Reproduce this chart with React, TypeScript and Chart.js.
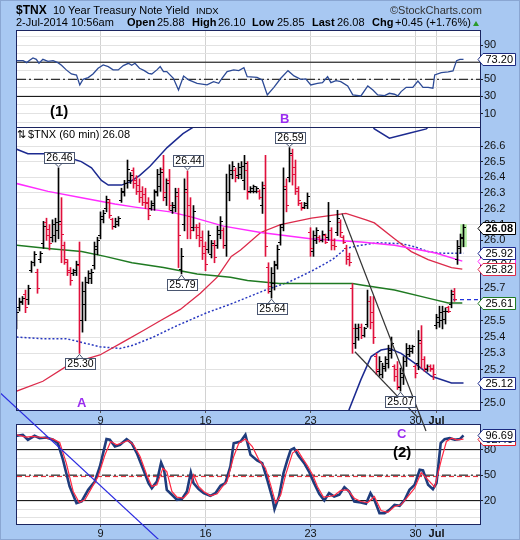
import React, { useEffect, useRef } from 'react';
import { Chart, registerables } from 'chart.js';

Chart.register(...registerables);

const FONT = '"Liberation Sans", Arial, Helvetica, sans-serif';
const X_MIN = 1 / 6;
const X_MAX = 154.5;
const DASH_DOT = [9, 3, 2, 3];

// ---- x axis: hourly bars, one index per bar (3-Jun-2014 .. 2-Jul-2014 10:00)
const dayTickIndex = [28, 63, 98, 133, 140];
const dayTickLabels = ['9', '16', '23', '30', 'Jul'];

// ---- OHLC (60 min)
const opens = [
  25.48, 25.58, 25.61, 25.66, 25.63, 25.81, 25.86, 25.80, 25.88, 25.98,
  26.11, 26.07, 26.02, 26.03, 26.06, 26.10, 25.97, 25.86, 25.81, 25.79,
  25.80, 25.84, 25.50, 25.60, 25.74, 25.76, 25.84, 25.94, 26.03, 26.13,
  26.20, 26.24, 26.13, 26.09, 26.10, 26.25, 26.30, 26.36, 26.38, 26.44,
  26.38, 26.35, 26.31, 26.29, 26.24, 26.20, 26.22, 26.31, 26.34, 26.45,
  26.27, 26.38, 26.19, 26.21, 26.28, 25.82, 26.10, 26.30, 26.22, 26.08,
  26.08, 26.08, 26.02, 25.96, 25.94, 25.91, 25.97, 25.97, 26.04, 26.06,
  25.97, 26.30, 26.42, 26.44, 26.41, 26.42, 26.38, 26.44, 26.31, 26.31,
  26.31, 26.31, 26.22, 26.35, 25.83, 25.68, 25.73, 25.85, 25.99, 26.10,
  26.34, 26.40, 26.54, 26.46, 26.31, 26.23, 26.21, 26.22, 26.05, 25.93,
  26.00, 26.02, 26.00, 26.03, 26.02, 26.06, 26.00, 26.05, 26.11, 26.02,
  25.95, 25.90, 25.70, 25.36, 25.40, 25.46, 25.41, 25.48, 25.62, 25.55,
  25.28, 25.19, 25.17, 25.21, 25.24, 25.30, 25.22, 25.20, 25.09, 25.15,
  25.25, 25.29, 25.31, 25.22, 25.24, 25.36, 25.26, 25.20, 25.22, 25.21,
  25.47, 25.49, 25.50, 25.51, 25.58, 25.60, 25.68, 25.88, 25.95, 26.01,
];
const highs = [
  25.57, 25.64, 25.65, 25.69, 25.72, 25.87, 25.93, 25.82, 25.93, 26.12,
  26.14, 26.10, 26.13, 26.14, 26.46, 26.27, 25.99, 25.88, 25.83, 25.82,
  25.87, 25.99, 25.74, 25.77, 25.81, 25.82, 25.99, 26.02, 26.18, 26.19,
  26.28, 26.26, 26.14, 26.14, 26.15, 26.33, 26.38, 26.51, 26.43, 26.46,
  26.41, 26.39, 26.34, 26.33, 26.27, 26.25, 26.32, 26.45, 26.46, 26.54,
  26.39, 26.45, 26.24, 26.33, 26.33, 25.95, 26.39, 26.44, 26.27, 26.22,
  26.10, 26.11, 26.06, 25.99, 26.06, 26.00, 26.00, 26.09, 26.15, 26.08,
  26.42, 26.48, 26.50, 26.46, 26.49, 26.50, 26.54, 26.50, 26.34, 26.35,
  26.34, 26.32, 26.37, 26.54, 25.86, 25.83, 25.87, 25.97, 26.10, 26.46,
  26.39, 26.59, 26.58, 26.51, 26.34, 26.24, 26.24, 26.30, 26.08, 26.06,
  26.08, 26.03, 26.06, 26.04, 26.24, 26.08, 26.01, 26.19, 26.13, 26.03,
  25.97, 25.92, 25.73, 25.48, 25.48, 25.48, 25.46, 25.69, 25.65, 25.65,
  25.30, 25.28, 25.24, 25.28, 25.35, 25.40, 25.23, 25.25, 25.21, 25.28,
  25.36, 25.35, 25.35, 25.23, 25.44, 25.47, 25.28, 25.23, 25.23, 25.23,
  25.54, 25.59, 25.59, 25.58, 25.59, 25.69, 25.70, 26.00, 26.04, 26.10,
];
const lows = [
  25.45, 25.56, 25.60, 25.55, 25.60, 25.80, 25.84, 25.67, 25.86, 25.95,
  26.00, 25.94, 25.99, 25.99, 26.01, 25.86, 25.85, 25.78, 25.72, 25.78,
  25.78, 25.30, 25.43, 25.50, 25.73, 25.73, 25.82, 25.91, 26.01, 26.11,
  26.18, 26.14, 26.07, 26.08, 26.09, 26.24, 26.28, 26.33, 26.36, 26.33,
  26.29, 26.24, 26.22, 26.20, 26.13, 26.19, 26.19, 26.28, 26.31, 26.25,
  26.22, 26.19, 26.17, 26.18, 25.83, 25.79, 26.06, 26.01, 26.01, 26.06,
  26.01, 25.96, 25.88, 25.81, 25.92, 25.89, 25.86, 25.95, 26.01, 25.95,
  25.90, 26.25, 26.39, 26.37, 26.39, 26.39, 26.32, 26.26, 26.30, 26.30,
  26.30, 26.26, 26.17, 25.90, 25.67, 25.64, 25.69, 25.82, 25.97, 26.06,
  26.18, 26.37, 26.35, 26.29, 26.22, 26.19, 26.20, 26.20, 25.90, 25.90,
  25.98, 25.99, 25.99, 25.98, 26.00, 25.94, 25.94, 26.03, 26.02, 25.98,
  25.85, 25.84, 25.30, 25.33, 25.38, 25.39, 25.40, 25.46, 25.45, 25.36,
  25.17, 25.16, 25.15, 25.19, 25.21, 25.27, 25.13, 25.08, 25.07, 25.11,
  25.22, 25.28, 25.30, 25.15, 25.20, 25.21, 25.19, 25.19, 25.19, 25.14,
  25.45, 25.46, 25.45, 25.48, 25.55, 25.58, 25.62, 25.85, 25.92, 25.96,
];
const closes = [
  25.55, 25.62, 25.64, 25.58, 25.70, 25.86, 25.91, 25.70, 25.92, 26.09,
  26.03, 25.98, 26.10, 26.11, 26.12, 26.04, 25.88, 25.80, 25.75, 25.81,
  25.85, 25.50, 25.68, 25.74, 25.79, 25.80, 25.96, 26.00, 26.15, 26.17,
  26.26, 26.16, 26.09, 26.12, 26.14, 26.31, 26.36, 26.45, 26.41, 26.36,
  26.31, 26.27, 26.24, 26.23, 26.16, 26.23, 26.30, 26.42, 26.43, 26.30,
  26.36, 26.22, 26.22, 26.30, 26.03, 25.90, 26.32, 26.15, 26.06, 26.18,
  26.03, 26.00, 25.92, 25.85, 26.03, 25.98, 25.89, 26.06, 26.12, 25.97,
  26.30, 26.44, 26.47, 26.40, 26.46, 26.47, 26.49, 26.30, 26.33, 26.34,
  26.33, 26.27, 26.33, 25.96, 25.71, 25.79, 25.84, 25.94, 26.08, 26.32,
  26.22, 26.55, 26.42, 26.33, 26.25, 26.20, 26.23, 26.28, 25.95, 26.03,
  26.06, 26.00, 26.04, 25.99, 26.12, 25.97, 25.96, 26.14, 26.05, 25.99,
  25.88, 25.86, 25.45, 25.45, 25.46, 25.41, 25.45, 25.62, 25.49, 25.40,
  25.20, 25.25, 25.22, 25.26, 25.32, 25.36, 25.16, 25.10, 25.18, 25.25,
  25.33, 25.33, 25.34, 25.18, 25.38, 25.26, 25.21, 25.22, 25.20, 25.17,
  25.52, 25.55, 25.56, 25.56, 25.56, 25.66, 25.63, 25.96, 26.02, 26.08,
];

// ---- axis ticks
const priceTicks = [25.0, 25.1, 25.2, 25.3, 25.4, 25.5, 25.6, 25.7, 25.8, 25.9, 26.0, 26.1, 26.2, 26.3, 26.4, 26.5, 26.6];
const oscTicks = [0, 10, 20, 30, 40, 50, 60, 70, 80, 90, 100];
const rsiTickLabels = [10, 30, 50, 70, 90];
const stochTickLabels = [20, 50, 80];
const rsiBands = [70, 30];
const rsiMid = 50;
const stochBands = [80, 20];
const stochMid = 50;
const stochSignalAvg = 48.3;

// ---- swing annotations (bar indices)
const swingHighIdx = [14, 57, 91];
const swingLowIdx = [21, 55, 85, 128];

// ---- overlays on price panel [barIndex, value]
const bbUpperEarly = [[0, 26.58], [3.8, 26.55], [9.4, 26.55], [18.3, 26.52], [21.6, 26.5], [25, 26.46], [28.3, 26.38], [30.6, 26.35], [35, 26.35], [37.8, 26.37], [41, 26.41], [44.5, 26.47], [50.2, 26.59], [55.5, 26.68], [58.8, 26.72], [62, 26.78]];
const bbUpperLate = [[116, 26.8], [119.3, 26.71], [124.3, 26.65], [130.5, 26.68], [136.6, 26.71], [140, 26.78]];
const bbMiddle = [[0, 25.4], [8.8, 25.39], [16.6, 25.39], [27.8, 25.34], [34.5, 25.33], [38.9, 25.35], [45.6, 25.4], [53.5, 25.47], [63.5, 25.55], [72.4, 25.61], [76.3, 25.64], [83, 25.69], [90.8, 25.74], [98.6, 25.81], [105.3, 25.88], [109.8, 25.95], [114.8, 25.97], [120.4, 25.985], [128.2, 25.98], [132.7, 25.96], [137.2, 25.93], [141.6, 25.92], [149, 25.92]];
const bbLower = [[107, 24.85], [110.9, 24.96], [114.8, 25.14], [118.2, 25.28], [121.5, 25.32], [124.3, 25.33], [128.2, 25.3], [132.7, 25.24], [138.3, 25.16], [145, 25.12], [149, 25.12]];
const maPink = [[0, 26.36], [10.5, 26.31], [21.7, 26.27], [32.8, 26.23], [39.5, 26.21], [51.2, 26.18], [57.9, 26.15], [69, 26.09], [81.4, 26.05], [98, 26.01], [114.8, 25.99], [126, 25.97], [137.2, 25.93], [140, 25.92], [148.6, 25.87]];
const maRed = [[0, 25.07], [8.8, 25.13], [16.6, 25.22], [22.2, 25.26], [27.8, 25.29], [35.6, 25.37], [42.3, 25.44], [47.9, 25.5], [54.6, 25.57], [61.3, 25.67], [66.9, 25.77], [71.6, 25.9], [74.7, 25.94], [81.4, 26.05], [88, 26.1], [98.3, 26.14], [109.8, 26.17], [116.5, 26.13], [119.3, 26.11], [126, 26.01], [131.6, 25.93], [137.2, 25.88], [145, 25.83], [148.6, 25.82]];
const maGreen = [[0, 25.97], [10.5, 25.95], [21.7, 25.93], [29.5, 25.9], [38.5, 25.86], [49, 25.83], [60.2, 25.79], [71.3, 25.77], [77, 25.75], [87.5, 25.73], [98.6, 25.73], [112, 25.73], [115.5, 25.72], [126, 25.69], [137.2, 25.64], [143.9, 25.61], [148.6, 25.61]];
const trendUpper = [[108.5, 26.17], [136.5, 24.83]];
const trendLower = [[112.8, 25.31], [133.8, 24.91]];
const cycleLine = [[-5.5, 25.06], [47.8, 24.18]];

// ---- RSI
const rsiSeries = [[0, 71.8], [2.2, 71.8], [3.4, 69.5], [4.5, 72.6], [5.5, 75], [6.6, 73.4], [7.5, 68.7], [8.8, 73.4], [10.5, 71], [12.2, 71.8], [13.8, 69.5], [15, 66.4], [16.6, 61], [18.3, 56.2], [20, 55], [21.1, 43.4], [22.2, 50], [23.9, 52], [25.5, 56.2], [27.2, 62.9], [28.9, 66.8], [30.6, 64.8], [32.2, 61], [33.9, 61], [35.6, 66], [37.3, 68.7], [38.4, 66.4], [39.5, 68.7], [41, 62.9], [42.6, 60.1], [44, 57], [45.1, 56.2], [46.8, 61], [47.9, 64.8], [49, 59], [50.1, 59], [52.3, 51.2], [54, 37.5], [55.7, 53.9], [57.4, 49.2], [60.2, 45.3], [63.5, 43.4], [65.7, 47.3], [67.4, 45.3], [68.5, 51.2], [70.2, 59], [72.4, 60.9], [74.1, 60.1], [75.8, 63.6], [76.9, 53.1], [80.2, 52.3], [81.9, 49.2], [83.6, 31.7], [85.8, 40.6], [88.1, 51.2], [90.5, 60.1], [92.5, 53.9], [94.8, 50], [96.4, 50.4], [98.1, 43.4], [100.3, 45.3], [102, 46.1], [103.7, 53.1], [104.8, 46.1], [106.5, 48.4], [108.1, 47.3], [110.4, 42.2], [112.1, 31.7], [114.8, 30.5], [117.1, 42.2], [118.8, 37.5], [120.4, 31.7], [122.7, 30.9], [124.3, 33.6], [126, 32.5], [127.1, 30.5], [128.2, 35.6], [129.9, 40.6], [132.1, 40.6], [133.8, 48], [135.5, 40.6], [137.2, 40.6], [138.8, 39.5], [139.4, 55.1], [141.6, 57.8], [143.9, 58.6], [145.5, 59.8], [146.7, 71.8], [147.8, 73.4], [149, 73.2]];

// ---- Slow stochastic %K / %D
const stochK = [[0, 96.3], [2.1, 97.5], [3.8, 91.6], [6, 96.3], [7.7, 93.5], [9.9, 94.3], [12.2, 91.6], [13.8, 87.6], [15.5, 68], [17.7, 36.7], [20, 17.1], [21.7, 19], [23.9, 32.7], [26.1, 42.5], [27.8, 60.2], [30, 92.4], [31.1, 91.6], [32.8, 83.7], [34.5, 85.7], [36.7, 92.4], [38.4, 87.6], [40.1, 75.9], [42.3, 56.3], [44, 40.6], [45.1, 34.7], [46.8, 42.5], [48.2, 64.9], [49.2, 56.3], [50.1, 32.7], [51.8, 26.9], [53.5, 21], [55.1, 21.8], [56.8, 30.8], [58.1, 53.1], [59, 40.6], [60.7, 33.5], [62.4, 28.8], [64.6, 25.7], [66.3, 28.8], [68, 37.5], [69.6, 40.6], [71.3, 60.2], [72.4, 87.6], [74.7, 89.6], [76.3, 97.5], [78, 73.9], [80.2, 67.3], [81.9, 64.1], [83.6, 44.5], [85.3, 22.9], [86, 10], [87.5, 24.9], [89, 52.4], [90.3, 68], [91.4, 79.8], [92.5, 81.8], [94, 72.7], [95.9, 64.1], [97.5, 54.3], [99.2, 40.6], [100.9, 28], [102.6, 20.2], [104.2, 28.8], [105.9, 24.9], [107.6, 26.9], [109.3, 35.9], [110.9, 30.8], [112.6, 19], [114.8, 17.8], [116.5, 16.3], [118, 28.8], [119.3, 21], [121, 5.3], [122.7, 5.3], [124.3, 9.2], [126, 15.1], [127.7, 13.9], [129.4, 21], [131, 32.7], [132.7, 38.6], [134.4, 56.3], [135.5, 55.5], [137.2, 38.6], [138.8, 33.5], [140, 40.6], [141.4, 87.6], [142.7, 92.4], [144.4, 93.5], [146.1, 91.6], [147.8, 92.4], [149, 96.69]];
const stochD = [[0, 97.5], [3.2, 94.7], [5.5, 95.5], [8.8, 94.3], [12.2, 92.4], [14.4, 88.4], [16.6, 64.1], [18.9, 30.8], [20.9, 17.8], [22.8, 21], [25, 34.7], [27.2, 48.4], [29.5, 73.9], [31.4, 89.6], [33.4, 85.7], [35.6, 88.4], [37.3, 90.8], [39, 85.7], [41.2, 72], [43.4, 50.4], [45.1, 36.7], [46.8, 38.6], [48.8, 58.2], [50.1, 54.3], [51.8, 30.8], [53.5, 24.1], [55.7, 22.9], [57.4, 29.6], [59, 50.4], [60.7, 36.7], [62.4, 30.8], [64.6, 25.7], [66.9, 28], [68.5, 35.9], [70.2, 42.5], [72.4, 72], [74.1, 87.6], [76.3, 92.4], [78.6, 83.7], [80.8, 68], [83, 58.2], [84.7, 38.6], [86.4, 17.1], [88.1, 26.9], [89.7, 50.4], [92, 75.9], [93.6, 79.8], [95.3, 70], [97, 61], [98.7, 50.4], [100.3, 36.7], [102.3, 24.1], [104.2, 24.9], [105.9, 26.1], [108.1, 32], [110.4, 32.7], [112.6, 22.9], [114.8, 19], [117.1, 17.8], [119.3, 24.9], [121.5, 8.4], [123.8, 6.1], [126, 13.1], [128.2, 15.1], [130.5, 24.9], [132.7, 34.7], [134.9, 53.1], [137.2, 44.5], [139.4, 35.9], [141.6, 68], [143.3, 89.6], [145, 93.5], [146.7, 91.6], [149, 92.4]];

// ---------------------------------------------------------------------------
const pts = (arr: number[][]) => arr.map(([x, y]) => ({ x, y }));
const last = (arr: number[][]) => arr[arr.length - 1][1];
const LAST = closes.length - 1;
const isDown = (i: number) => closes[i] < opens[i];

function tickStyle(color: string, side: 'l' | 'r') {
  const c = document.createElement('canvas');
  c.width = 5;
  c.height = 1;
  const g = c.getContext('2d')!;
  g.fillStyle = color;
  g.fillRect(side === 'l' ? 0 : 3, 0, 2, 1);
  return c;
}

function drawTag(ctx: CanvasRenderingContext2D, x: number, yRaw: number, text: string, color: string, bold: boolean) {
  const y = Math.round(yRaw) + 0.5;
  ctx.save();
  ctx.font = `${bold ? 'bold ' : ''}11px ${FONT}`;
  const w = ctx.measureText(text).width + 5;
  const h = 12;
  ctx.beginPath();
  ctx.moveTo(x, y);
  ctx.lineTo(x + 5, y - h / 2);
  ctx.lineTo(x + 5 + w, y - h / 2);
  ctx.lineTo(x + 5 + w, y + h / 2);
  ctx.lineTo(x + 5, y + h / 2);
  ctx.closePath();
  ctx.fillStyle = '#fff';
  ctx.fill();
  ctx.lineWidth = 1;
  ctx.strokeStyle = color;
  ctx.stroke();
  ctx.fillStyle = '#000';
  ctx.textBaseline = 'middle';
  ctx.textAlign = 'left';
  ctx.fillText(text, x + 7.5, y + 0.5);
  ctx.restore();
}

function drawSwing(ctx: CanvasRenderingContext2D, x: number, y: number, text: string, above: boolean) {
  ctx.save();
  ctx.font = `10.5px ${FONT}`;
  const w = Math.round(ctx.measureText(text).width + 4);
  const h = 11;
  const bx = Math.round(x - w / 2) + 0.5;
  let by: number;
  ctx.strokeStyle = '#4a5670';
  ctx.lineWidth = 1;
  ctx.beginPath();
  if (above) {
    const bottom = Math.round(y - 5) + 0.5;
    by = bottom - h;
    ctx.moveTo(x - 3.5, bottom);
    ctx.lineTo(x, y - 1);
    ctx.lineTo(x + 3.5, bottom);
  } else {
    const top = Math.round(y + 5) + 0.5;
    by = top;
    ctx.moveTo(x - 3.5, top);
    ctx.lineTo(x, y + 1);
    ctx.lineTo(x + 3.5, top);
  }
  ctx.stroke();
  ctx.fillStyle = '#fff';
  ctx.fillRect(bx, by, w, h);
  ctx.strokeRect(bx, by, w, h);
  ctx.fillStyle = '#000';
  ctx.textAlign = 'center';
  ctx.textBaseline = 'middle';
  ctx.fillText(text, bx + w / 2, by + h / 2 + 0.5);
  ctx.restore();
}

const panelPlugin = {
  id: 'panel',
  beforeDraw(chart: any) {
    const { ctx, chartArea: a } = chart;
    ctx.save();
    ctx.fillStyle = '#ffffff';
    ctx.fillRect(a.left, a.top, a.right - a.left, a.bottom - a.top);
    ctx.restore();
  },
  afterDatasetsDraw(chart: any) {
    const { ctx, chartArea: a } = chart;
    ctx.save();
    ctx.strokeStyle = '#1b2560';
    ctx.lineWidth = 1;
    ctx.strokeRect(a.left - 0.5, a.top - 0.5, a.right - a.left + 1, a.bottom - a.top + 1);
    ctx.restore();
  },
};

type Tag = { value: number; text: string; color: string; bold?: boolean };
function tagPlugin(tags: Tag[]) {
  return {
    id: 'tags',
    afterDraw(chart: any) {
      const { ctx, chartArea: a, scales } = chart;
      tags.forEach((t) => drawTag(ctx, a.right - 2, scales.y.getPixelForValue(t.value), t.text, t.color, !!t.bold));
    },
  };
}

const swingPlugin = {
  id: 'swings',
  afterDatasetsDraw(chart: any) {
    const { ctx, scales } = chart;
    swingHighIdx.forEach((i) => drawSwing(ctx, scales.x.getPixelForValue(i), scales.y.getPixelForValue(highs[i]), highs[i].toFixed(2), true));
    swingLowIdx.forEach((i) => drawSwing(ctx, scales.x.getPixelForValue(i), scales.y.getPixelForValue(lows[i]), lows[i].toFixed(2), false));
  },
};

type PanelOpts = {
  top: number; bottom: number; xHeight: number; showX: boolean; xPad: number;
  log?: boolean; yMin: number; yMax: number; yTicks: number[]; yLabel: (v: number) => string; yMarked: (v: number) => boolean;
};

function panelOptions(o: PanelOpts): any {
  return {
    animation: false,
    responsive: false,
    maintainAspectRatio: false,
    devicePixelRatio: 1,
    events: [],
    layout: { padding: { left: 17, right: 0, top: o.top, bottom: o.bottom } },
    plugins: { legend: { display: false }, tooltip: { enabled: false }, title: { display: false } },
    scales: {
      x: {
        type: 'linear',
        min: X_MIN,
        max: X_MAX,
        offset: false,
        afterBuildTicks: (s: any) => { s.ticks = dayTickIndex.map((v) => ({ value: v })); },
        afterFit: (s: any) => { s.height = o.xHeight; },
        ticks: {
          display: o.showX,
          autoSkip: false,
          maxRotation: 0,
          padding: o.xPad,
          color: '#111',
          callback: (_v: any, i: number) => dayTickLabels[i],
          font: (c: any) => ({ family: FONT, size: 11, weight: dayTickLabels[c.index] === 'Jul' ? 'bold' : 'normal' }),
        },
        grid: { color: '#d2d2d2', lineWidth: 1, drawTicks: o.showX, tickLength: 3, tickColor: '#555', offset: false },
        border: { display: false },
      },
      y: {
        type: o.log ? 'logarithmic' : 'linear',
        position: 'right',
        min: o.yMin,
        max: o.yMax,
        afterBuildTicks: (s: any) => { s.ticks = o.yTicks.map((v) => ({ value: v })); },
        afterFit: (s: any) => { s.width = 40; },
        ticks: {
          autoSkip: false,
          padding: 1,
          color: '#111',
          font: { family: FONT, size: 11 },
          callback: (v: any) => o.yLabel(Number(v)),
        },
        grid: {
          color: '#e2e2e2',
          lineWidth: 1,
          tickLength: 3,
          tickColor: (c: any) => (c.tick && o.yMarked(c.tick.value) ? '#222' : 'rgba(0,0,0,0)'),
        },
        border: { display: false },
      },
    },
  };
}

const lvl = (y: number, color: string, dash: number[], width = 1) => ({
  type: 'line',
  data: [{ x: X_MIN, y }, { x: X_MAX, y }],
  borderColor: color,
  borderWidth: width,
  borderDash: dash,
  pointRadius: 0,
  order: 8,
});

function makeRsi(canvas: HTMLCanvasElement) {
  return new Chart(canvas, {
    type: 'line',
    data: {
      datasets: [
        ...rsiBands.map((b) => lvl(b, '#000', [])),
        lvl(rsiMid, '#000', DASH_DOT),
        { type: 'line', data: pts(rsiSeries), borderColor: '#2c4a96', borderWidth: 1.3, pointRadius: 0, order: 2 },
      ] as any,
    },
    options: panelOptions({
      top: 31, bottom: 412, xHeight: 0, showX: false, xPad: 0,
      yMin: -7, yMax: 106.5, yTicks: oscTicks,
      yLabel: (v) => (rsiTickLabels.includes(v) ? String(v) : ''),
      yMarked: (v) => rsiTickLabels.includes(v),
    }),
    plugins: [panelPlugin, tagPlugin([{ value: last(rsiSeries), text: last(rsiSeries).toFixed(2), color: '#1c2a80' }])],
  });
}

function makeStoch(canvas: HTMLCanvasElement) {
  return new Chart(canvas, {
    type: 'line',
    data: {
      datasets: [
        ...stochBands.map((b) => lvl(b, '#000', [])),
        lvl(stochMid, '#000', DASH_DOT),
        lvl(stochSignalAvg, '#e8202c', [5, 3]),
        { type: 'line', data: pts(stochD), borderColor: '#ff2a44', borderWidth: 1.2, pointRadius: 0, order: 1 },
        { type: 'line', data: pts(stochK), borderColor: '#1f3c7c', borderWidth: 2.6, pointRadius: 0, order: 2 },
      ] as any,
    },
    options: panelOptions({
      top: 425, bottom: 0, xHeight: 16, showX: true, xPad: 0,
      yMin: -7.5, yMax: 109, yTicks: oscTicks,
      yLabel: (v) => (stochTickLabels.includes(v) ? String(v) : ''),
      yMarked: (v) => stochTickLabels.includes(v),
    }),
    plugins: [panelPlugin, tagPlugin([
      { value: last(stochD), text: last(stochD).toFixed(2), color: '#e8202c' },
      { value: last(stochK), text: last(stochK).toFixed(2), color: '#1c2a80' },
    ])],
  });
}

function makeMain(canvas: HTMLCanvasElement) {
  const idx = closes.map((_, i) => i);
  const barColors = idx.map((i) => (isDown(i) ? '#e0103c' : '#000000'));
  const openL = { up: tickStyle('#000', 'l'), down: tickStyle('#e0103c', 'l') };
  const closeR = { up: tickStyle('#000', 'r'), down: tickStyle('#e0103c', 'r') };
  const line = (data: number[][], color: string, width: number, extra: any = {}) => ({
    type: 'line', data: pts(data), borderColor: color, borderWidth: width, pointRadius: 0, order: 5, ...extra,
  });
  return new Chart(canvas, {
    type: 'line',
    data: {
      datasets: [
        { type: 'bar', data: [{ x: LAST, y: [lows[LAST], highs[LAST]] }], backgroundColor: '#b4f0a4', barThickness: 6, grouped: false, order: 9 },
        line(maGreen, '#1f7a22', 1.5),
        line(maPink, '#ff2cff', 1.5),
        line(maRed, '#dc2a4a', 1.3),
        line(bbMiddle, '#2838c0', 1.5, { borderDash: [2, 2] }),
        line(bbUpperEarly, '#1c2a90', 1.5),
        line(bbUpperLate, '#1c2a90', 1.5),
        line(bbLower, '#1c2a90', 1.5),
        line([[LAST - 3.5, closes[LAST - 3]], [X_MAX, closes[LAST - 3]]], '#2233dd', 1.2, { borderDash: [4, 3] }),
        { type: 'bar', data: idx.map((i) => ({ x: i, y: [lows[i], highs[i]] })), backgroundColor: barColors, barThickness: 1, grouped: false, order: 2 },
        { type: 'line', showLine: false, data: idx.map((i) => ({ x: i, y: opens[i] })), pointRadius: 1, pointStyle: idx.map((i) => (isDown(i) ? openL.down : openL.up)), order: 1 },
        { type: 'line', showLine: false, data: idx.map((i) => ({ x: i, y: closes[i] })), pointRadius: 1, pointStyle: idx.map((i) => (isDown(i) ? closeR.down : closeR.up)), order: 1 },
        line(trendUpper, '#333333', 1.2, { clip: false, order: 0 }),
        line(trendLower, '#333333', 1.2, { clip: false, order: 0 }),
        line(cycleLine, '#2a2ae0', 1.2, { clip: false, order: 0 }),
      ] as any,
    },
    options: panelOptions({
      top: 128, bottom: 114, xHeight: 16, showX: true, xPad: 1,
      log: true, yMin: 24.956, yMax: 26.716, yTicks: priceTicks,
      yLabel: (v) => v.toFixed(1),
      yMarked: () => true,
    }),
    plugins: [panelPlugin, swingPlugin, tagPlugin([
      { value: last(maPink), text: last(maPink).toFixed(2), color: '#ff2cff' },
      { value: last(bbMiddle), text: last(bbMiddle).toFixed(2), color: '#1c2a90' },
      { value: last(maRed), text: last(maRed).toFixed(2), color: '#dc2a4a' },
      { value: closes[LAST], text: closes[LAST].toFixed(2), color: '#000', bold: true },
      { value: last(maGreen), text: last(maGreen).toFixed(2), color: '#1f7a22' },
      { value: last(bbLower), text: last(bbLower).toFixed(2), color: '#1c2a90' },
    ])],
  });
}

const T = (p: { x: number; y: number; size: number; bold?: boolean; color?: string; children: any }) => (
  <div
    style={{
      position: 'absolute', left: p.x, top: p.y, fontSize: p.size, lineHeight: 1,
      fontWeight: p.bold ? 'bold' : 'normal', color: p.color || '#000', whiteSpace: 'nowrap',
      fontFamily: FONT, pointerEvents: 'none',
    }}
  >
    {p.children}
  </div>
);

export default function App() {
  const rsiRef = useRef<HTMLCanvasElement>(null);
  const stochRef = useRef<HTMLCanvasElement>(null);
  const mainRef = useRef<HTMLCanvasElement>(null);

  useEffect(() => {
    const charts = [makeRsi(rsiRef.current!), makeStoch(stochRef.current!), makeMain(mainRef.current!)];
    return () => charts.forEach((c) => c.destroy());
  }, []);

  const todayOpen = opens[LAST - 2];
  const todayHigh = Math.max(highs[LAST - 2], highs[LAST - 1], highs[LAST]);
  const todayLow = Math.min(lows[LAST - 2], lows[LAST - 1], lows[LAST]);
  const prevClose = closes[LAST - 3];
  const chg = closes[LAST] - prevClose;
  const pct = (chg / prevClose) * 100;

  const cv: any = { position: 'absolute', left: 0, top: 0, width: 520, height: 540 };
  const purple = '#9a2cf0';

  return (
    <div style={{ position: 'fixed', left: 0, top: 0, width: 520, height: 540, background: '#a8c8f2', overflow: 'hidden' }}>
      <canvas ref={rsiRef} width={520} height={540} style={cv} />
      <canvas ref={stochRef} width={520} height={540} style={cv} />
      <canvas ref={mainRef} width={520} height={540} style={cv} />

      <T x={16} y={4} size={12} bold>$TNX</T>
      <T x={53} y={5} size={11}>10 Year Treasury Note Yield</T>
      <T x={196} y={6.3} size={9.5}>INDX</T>
      <T x={390} y={5} size={11} color="#333">©StockCharts.com</T>

      <T x={16} y={16.7} size={11}>2-Jul-2014 10:56am</T>
      <T x={127} y={16.7} size={11} bold>Open</T>
      <T x={157} y={16.7} size={11}>{todayOpen.toFixed(2)}</T>
      <T x={192} y={16.7} size={11} bold>High</T>
      <T x={218} y={16.7} size={11}>{todayHigh.toFixed(2)}</T>
      <T x={252} y={16.7} size={11} bold>Low</T>
      <T x={277} y={16.7} size={11}>{todayLow.toFixed(2)}</T>
      <T x={312} y={16.7} size={11} bold>Last</T>
      <T x={337} y={16.7} size={11}>{closes[LAST].toFixed(2)}</T>
      <T x={372} y={16.7} size={11} bold>Chg</T>
      <T x={395} y={16.7} size={11}>{`+${chg.toFixed(2)} (+${pct.toFixed(2)}%)`}</T>
      <div style={{ position: 'absolute', left: 472.5, top: 20.5, width: 0, height: 0, borderLeft: '3.5px solid transparent', borderRight: '3.5px solid transparent', borderBottom: '5px solid #2a9a2a' }} />

      <T x={17} y={128.5} size={11}>⇅</T>
      <T x={28} y={128.5} size={11}>{`$TNX (60 min) ${closes[LAST].toFixed(2)}`}</T>

      <T x={50} y={102.5} size={15} bold>(1)</T>
      <T x={280} y={112} size={13} bold color={purple}>B</T>
      <T x={77} y={396} size={13} bold color={purple}>A</T>
      <T x={397} y={427} size={13} bold color={purple}>C</T>
      <T x={393} y={443.5} size={15} bold>(2)</T>

      <div style={{ position: 'absolute', left: 0, top: 0, width: 518, height: 538, border: '1px solid #8aa6d2', pointerEvents: 'none' }} />
    </div>
  );
}
